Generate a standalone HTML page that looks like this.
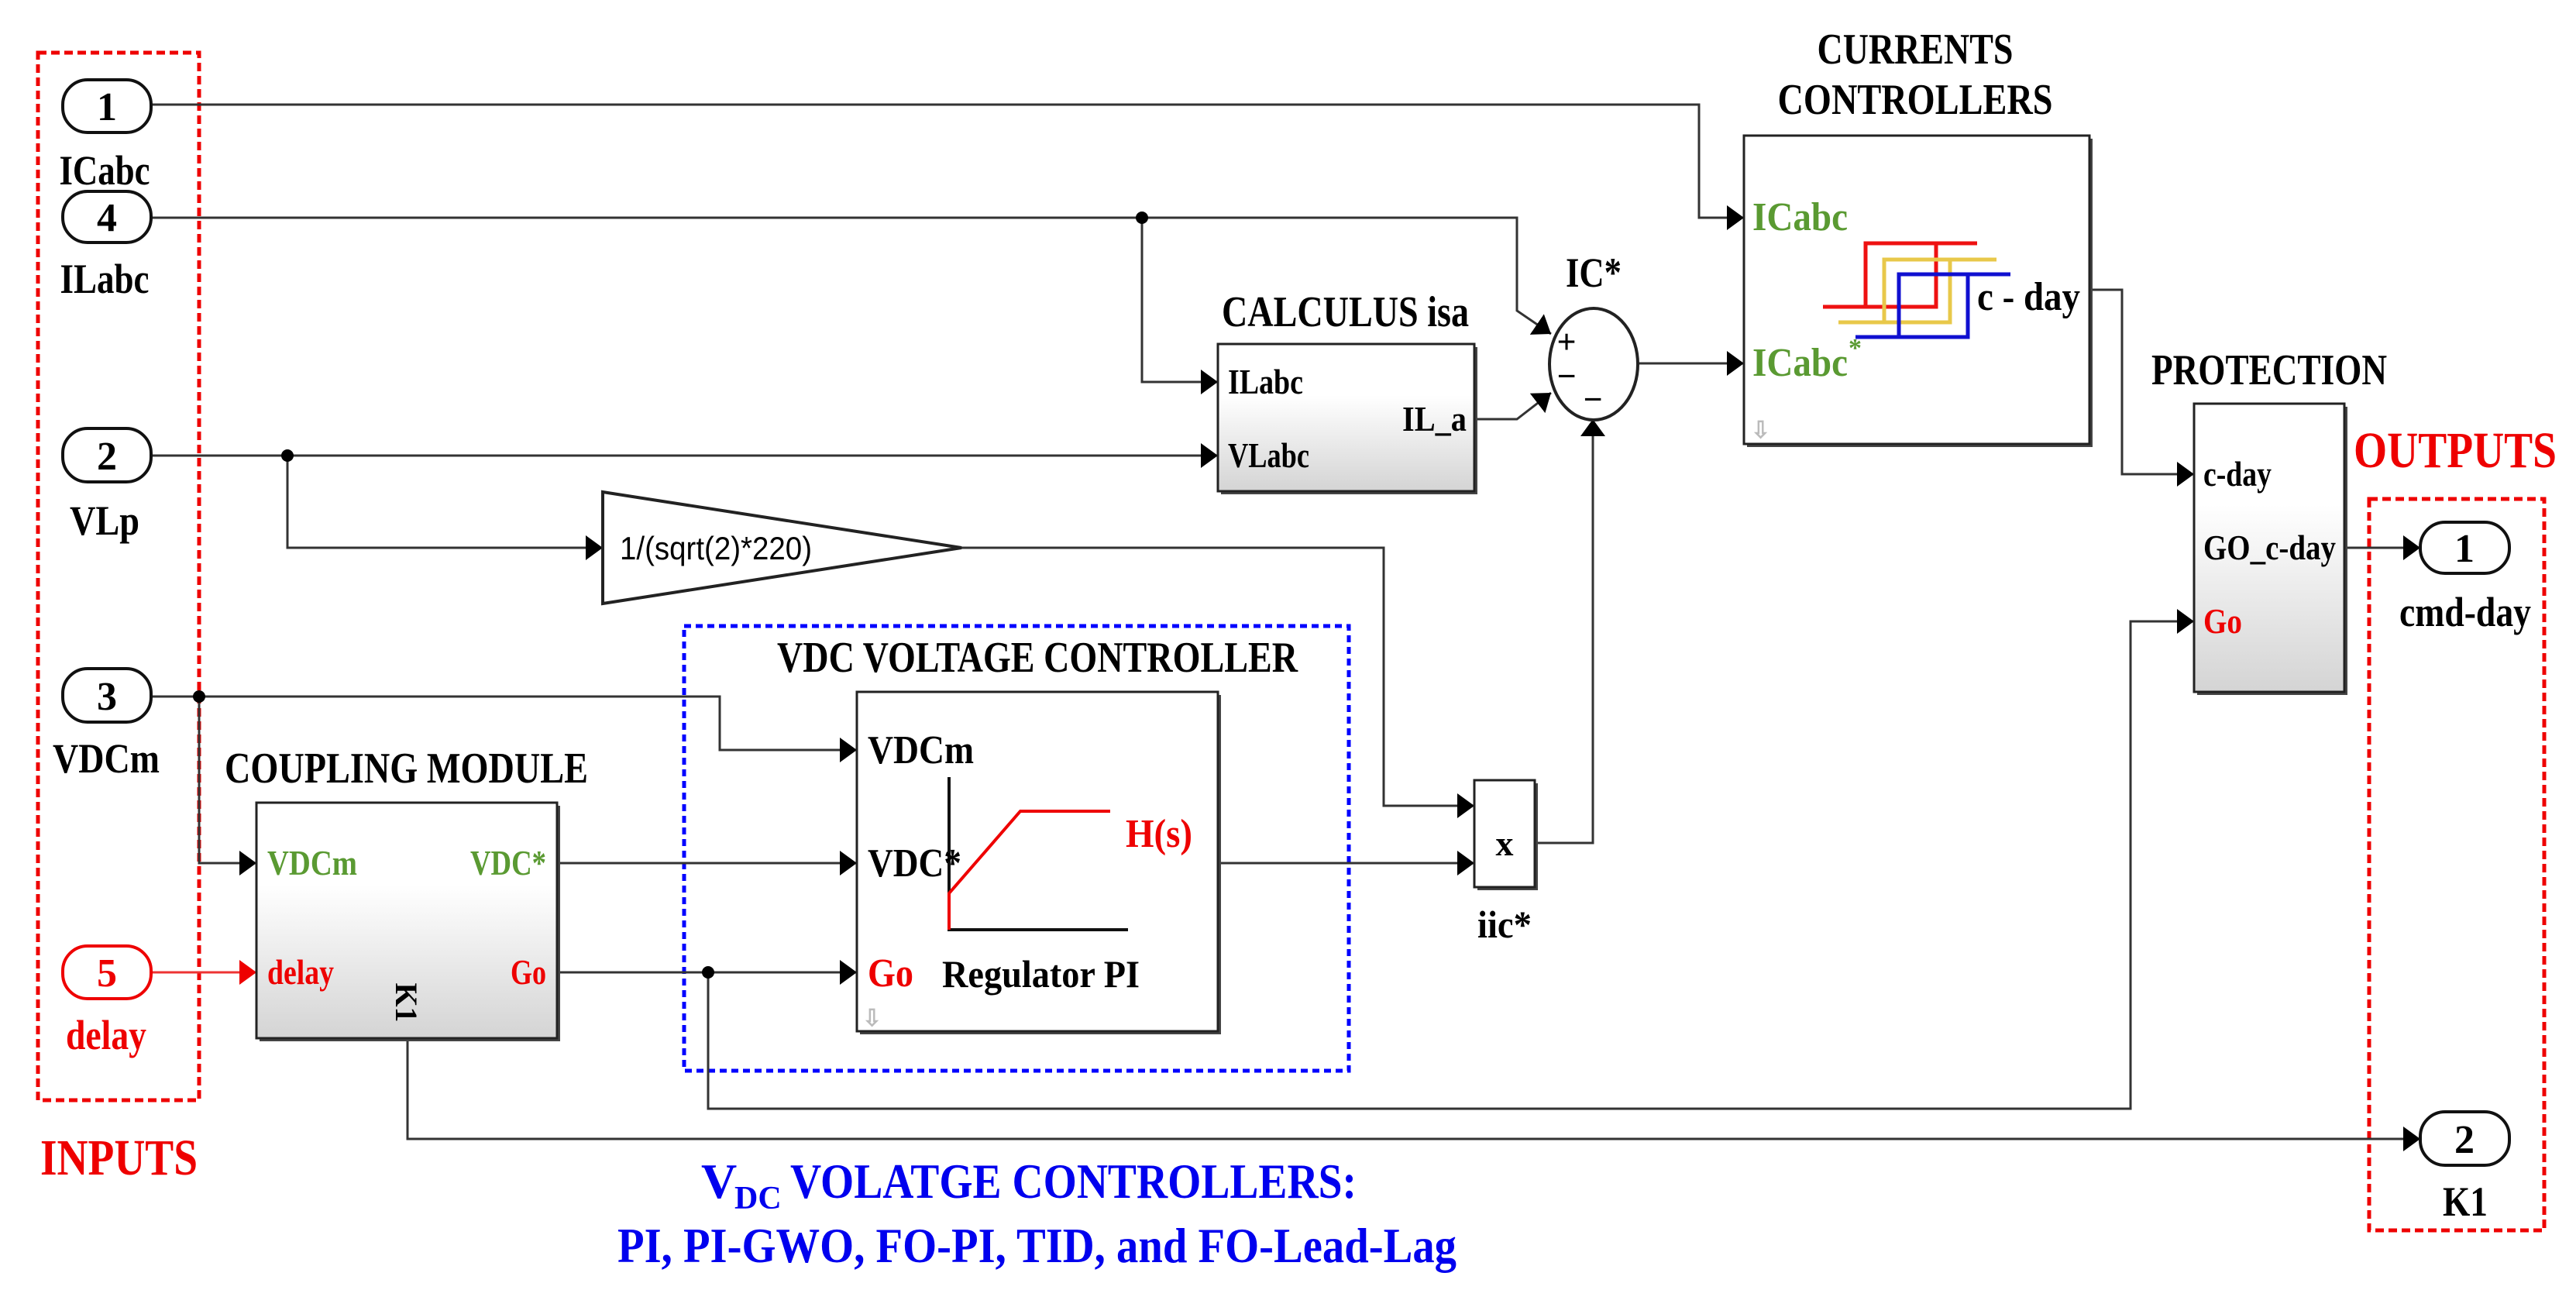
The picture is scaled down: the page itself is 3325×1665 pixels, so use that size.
<!DOCTYPE html>
<html><head><meta charset="utf-8"><style>
html,body{margin:0;padding:0;background:#fff}
svg{display:block}
text{font-family:"Liberation Serif",serif;font-weight:bold}
.s{font-family:"Liberation Sans",sans-serif;font-weight:normal}
</style></head><body>
<svg width="3325" height="1665" viewBox="0 0 3325 1665" xmlns="http://www.w3.org/2000/svg">
<defs>
<marker id="a" viewBox="0 0 22 32" refX="22" refY="16" markerWidth="22" markerHeight="32" markerUnits="userSpaceOnUse" orient="auto"><path d="M0,0 L22,16 L0,32Z" fill="#000"/></marker>
<marker id="r" viewBox="0 0 22 32" refX="22" refY="16" markerWidth="22" markerHeight="32" markerUnits="userSpaceOnUse" orient="auto"><path d="M0,0 L22,16 L0,32Z" fill="#e00"/></marker>
<linearGradient id="g" x1="0" y1="0" x2="0" y2="1"><stop offset="0" stop-color="#fff"/><stop offset="0.35" stop-color="#fff"/><stop offset="1" stop-color="#d4d4d4"/></linearGradient>
</defs>

<rect x="49" y="68" width="208" height="1352" fill="none" stroke="#e00" stroke-width="5" stroke-dasharray="11 6"/>
<rect x="3058" y="644" width="226" height="944" fill="none" stroke="#e00" stroke-width="5" stroke-dasharray="11 6"/>
<rect x="883" y="808" width="858" height="574" fill="none" stroke="#00f" stroke-width="5" stroke-dasharray="9 6"/>

<g fill="none" stroke="#333" stroke-width="3">
<path d="M195 135 H2193 V281 H2251" marker-end="url(#a)"/>
<path d="M195 281 H1958 V401 L2002 431" marker-end="url(#a)"/>
<path d="M1474 281 V493 H1572" marker-end="url(#a)"/>
<path d="M195 588 H1572" marker-end="url(#a)"/>
<path d="M371 588 V707 H778" marker-end="url(#a)"/>
<path d="M1241 707 H1786 V1040 H1903" marker-end="url(#a)"/>
<path d="M1903 541 H1958 L2002 507" marker-end="url(#a)"/>
<path d="M2115 469 H2251" marker-end="url(#a)"/>
<path d="M1981 1088 H2056 V541" marker-end="url(#a)"/>
<path d="M2697 374 H2739 V612 H2832" marker-end="url(#a)"/>
<path d="M3026 707 H3124" marker-end="url(#a)"/>
<path d="M195 899 H929 V968 H1106" marker-end="url(#a)"/>
<path d="M257 899 V1114 H331" marker-end="url(#a)"/>
<path d="M719 1114 H1106" marker-end="url(#a)"/>
<path d="M719 1255 H1106" marker-end="url(#a)"/>
<path d="M914 1255 V1431 H2750 V802 H2832" marker-end="url(#a)"/>
<path d="M526 1341 V1470 H3124" marker-end="url(#a)"/>
<path d="M1572 1114 H1903" marker-end="url(#a)"/>
</g>
<path d="M195 1255 H331" fill="none" stroke="#e33" stroke-width="3" marker-end="url(#r)"/>
<g fill="#000"><circle cx="1474" cy="281" r="8"/><circle cx="371" cy="588" r="8"/><circle cx="257" cy="899" r="8"/><circle cx="914" cy="1255" r="8"/></g>

<g fill="#fff" stroke="#111" stroke-width="4">
<rect x="81" y="103" width="114" height="68" rx="32"/>
<rect x="81" y="247" width="114" height="66" rx="32"/>
<rect x="81" y="553" width="114" height="69" rx="32"/>
<rect x="81" y="863" width="114" height="69" rx="32"/>
<rect x="81" y="1221" width="114" height="68" rx="32" stroke="#e00"/>
<rect x="3124" y="674" width="115" height="66" rx="32"/>
<rect x="3124" y="1435" width="115" height="69" rx="32"/>
</g>
<g font-size="52" text-anchor="middle">
<text x="138" y="155">1</text><text x="138" y="298">4</text><text x="138" y="606">2</text><text x="138" y="916">3</text>
<text x="138" y="1273" fill="#e00">5</text><text x="3181" y="725">1</text><text x="3181" y="1488">2</text>
</g>
<g font-size="54" text-anchor="middle">
<text x="135" y="238" textLength="117" lengthAdjust="spacingAndGlyphs">ICabc</text>
<text x="135" y="378" textLength="115" lengthAdjust="spacingAndGlyphs">ILabc</text>
<text x="135" y="690" textLength="90" lengthAdjust="spacingAndGlyphs">VLp</text>
<text x="137" y="997" textLength="138" lengthAdjust="spacingAndGlyphs">VDCm</text>
<text x="137" y="1354" fill="#e00" textLength="104" lengthAdjust="spacingAndGlyphs">delay</text>
<text x="3182" y="808" textLength="170" lengthAdjust="spacingAndGlyphs">cmd-day</text>
<text x="3182" y="1569" textLength="58" lengthAdjust="spacingAndGlyphs">K1</text>
</g>

<polygon points="778,635 1241,707 778,779" fill="#fff" stroke="#222" stroke-width="4"/>
<text class="s" x="800" y="722" font-size="42" textLength="248" lengthAdjust="spacingAndGlyphs">1/(sqrt(2)*220)</text>

<g fill="#444">
<rect x="1576" y="448" width="331" height="190"/>
<rect x="2255" y="179" width="446" height="398"/>
<rect x="2836" y="525" width="194" height="372"/>
<rect x="335" y="1040" width="388" height="304"/>
<rect x="1110" y="897" width="466" height="438"/>
<rect x="1907" y="1011" width="78" height="138"/>
</g>
<g stroke="#222" stroke-width="3">
<rect x="1572" y="444" width="331" height="190" fill="url(#g)"/>
<rect x="2251" y="175" width="446" height="398" fill="#fff"/>
<rect x="2832" y="521" width="194" height="372" fill="url(#g)"/>
<rect x="331" y="1036" width="388" height="304" fill="url(#g)"/>
<rect x="1106" y="893" width="466" height="438" fill="#fff"/>
<rect x="1903" y="1007" width="78" height="138" fill="#fff"/>
</g>
<ellipse cx="2057" cy="470" rx="57" ry="72" fill="#fff" stroke="#222" stroke-width="4"/>
<g font-size="44" class="s" text-anchor="middle"><text x="2022" y="456">+</text><text x="2022" y="500">−</text><text x="2056" y="530">−</text></g>

<g fill="none" stroke-width="5">
<path d="M2353 396 H2499 V314 M2408 396 V314 H2552" stroke="#e11"/>
<path d="M2373 416 H2517 V335 M2432 416 V335 H2577" stroke="#e8c84a"/>
<path d="M2395 435 H2540 V354 M2451 435 V354 H2595" stroke="#1010d0"/>
</g>
<path d="M1225 1003 V1200 H1456" fill="none" stroke="#111" stroke-width="4"/>
<path d="M1225 1200 V1153 L1317 1047 H1433" fill="none" stroke="#e00" stroke-width="4"/>

<g font-size="56">
<text x="2472" y="82" text-anchor="middle" textLength="253" lengthAdjust="spacingAndGlyphs">CURRENTS</text>
<text x="2472" y="147" text-anchor="middle" textLength="355" lengthAdjust="spacingAndGlyphs">CONTROLLERS</text>
<text x="1577" y="421" textLength="319" lengthAdjust="spacingAndGlyphs">CALCULUS isa</text>
<text x="1003" y="867" textLength="672" lengthAdjust="spacingAndGlyphs">VDC VOLTAGE CONTROLLER</text>
<text x="290" y="1010" textLength="469" lengthAdjust="spacingAndGlyphs">COUPLING MODULE</text>
<text x="2777" y="496" textLength="304" lengthAdjust="spacingAndGlyphs">PROTECTION</text>
</g>
<text x="3038" y="603" font-size="66" fill="#e00" textLength="262" lengthAdjust="spacingAndGlyphs">OUTPUTS</text>
<text x="52" y="1516" font-size="66" fill="#e00" textLength="203" lengthAdjust="spacingAndGlyphs">INPUTS</text>
<text x="905" y="1546" font-size="64" fill="#00e">V</text>
<text x="948" y="1560" font-size="42" fill="#00e">DC</text>
<text x="1020" y="1546" font-size="64" fill="#00e" textLength="731" lengthAdjust="spacingAndGlyphs">VOLATGE CONTROLLERS:</text>
<text x="797" y="1629" font-size="64" fill="#00e" textLength="1083" lengthAdjust="spacingAndGlyphs">PI, PI-GWO, FO-PI, TID, and FO-Lead-Lag</text>

<g font-size="46">
<text x="1585" y="508" textLength="97" lengthAdjust="spacingAndGlyphs">ILabc</text>
<text x="1585" y="603" textLength="105" lengthAdjust="spacingAndGlyphs">VLabc</text>
<text x="1810" y="556" textLength="83" lengthAdjust="spacingAndGlyphs">IL_a</text>
<text x="2262" y="297" fill="#5a9a32" font-size="52" textLength="123" lengthAdjust="spacingAndGlyphs">ICabc</text>
<text x="2262" y="485" fill="#5a9a32" font-size="52" textLength="123" lengthAdjust="spacingAndGlyphs">ICabc</text>
<text x="2386" y="460" fill="#5a9a32" font-size="34">*</text>
<text x="2552" y="400" font-size="52" textLength="133" lengthAdjust="spacingAndGlyphs">c - day</text>
<text x="2844" y="627" textLength="88" lengthAdjust="spacingAndGlyphs">c-day</text>
<text x="2844" y="722" textLength="171" lengthAdjust="spacingAndGlyphs">GO_c-day</text>
<text x="2844" y="817" fill="#e00" textLength="50" lengthAdjust="spacingAndGlyphs">Go</text>
<text x="345" y="1129" fill="#5a9a32" textLength="116" lengthAdjust="spacingAndGlyphs">VDCm</text>
<text x="345" y="1270" fill="#e00" textLength="86" lengthAdjust="spacingAndGlyphs">delay</text>
<text x="607" y="1129" fill="#5a9a32" textLength="98" lengthAdjust="spacingAndGlyphs">VDC*</text>
<text x="659" y="1270" fill="#e00" textLength="46" lengthAdjust="spacingAndGlyphs">Go</text>
<text x="0" y="0" transform="translate(511,1294) rotate(90)" text-anchor="middle" font-size="40">K1</text>
<text x="1120" y="985" font-size="52" textLength="137" lengthAdjust="spacingAndGlyphs">VDCm</text>
<text x="1120" y="1131" font-size="52" textLength="121" lengthAdjust="spacingAndGlyphs">VDC*</text>
<text x="1120" y="1273" font-size="52" fill="#e00" textLength="59" lengthAdjust="spacingAndGlyphs">Go</text>
<text x="1216" y="1274" font-size="50" textLength="255" lengthAdjust="spacingAndGlyphs">Regulator PI</text>
<text x="1453" y="1093" font-size="52" fill="#e00" textLength="86" lengthAdjust="spacingAndGlyphs">H(s)</text>
<text x="1942" y="1104" font-size="46" text-anchor="middle">x</text>
<text x="1942" y="1210" font-size="50" text-anchor="middle" textLength="70" lengthAdjust="spacingAndGlyphs">iic*</text>
<text x="2057" y="370" font-size="54" text-anchor="middle" textLength="72" lengthAdjust="spacingAndGlyphs">IC*</text>
</g>
<g fill="#bbb" font-size="30" class="s"><text x="2260" y="565">⇩</text><text x="1113" y="1324">⇩</text></g>
</svg>
</body></html>
